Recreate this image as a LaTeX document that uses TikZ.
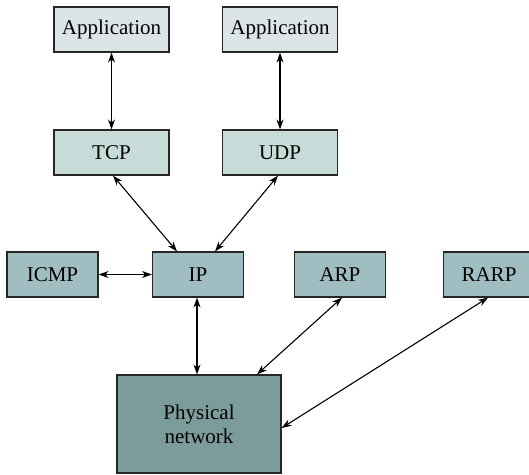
\documentclass[tikz,border=0pt]{standalone}
\usepackage{fontspec}
\setmainfont{Liberation Serif}
\usetikzlibrary{arrows.meta}
\definecolor{appfill}{HTML}{DDE4E8}
\definecolor{transfill}{HTML}{C7DCD9}
\definecolor{netfill}{HTML}{A0BDC1}
\definecolor{physfill}{HTML}{7C9C9C}
\begin{document}
\begin{tikzpicture}[x=1pt, y=-1pt, node distance=123pt,
    box/.style={rectangle, draw=black!85, line width=1.2pt, minimum height=45pt, inner sep=0pt,
      font=\fontsize{21}{24}\selectfont},
    upper/.style={box, minimum width=115pt},
    lower/.style={box, fill=netfill, minimum width=91pt},
    link/.style={{Stealth[length=10pt,width=7pt]}-{Stealth[length=10pt,width=7pt]}, line width=1.1pt}]
    \useasboundingbox (0,0) rectangle (529,474);

    \node[upper, fill=appfill] at (111.5,29.5) (appl) {Application};
    \node[upper, fill=appfill, right of=appl, node distance=168.5pt] (appr) {Application};
    \node[upper, fill=transfill, below of=appl] (tcp) {TCP};
    \node[upper, fill=transfill, below of=appr] (udp) {UDP};

    \node[lower] at (52.5,274.5) (icmp) {ICMP};
    \node[lower] at (198,274.5) (ip) {IP};
    \node[lower] at (340,274.5) (arp) {ARP};
    \node[lower] at (489,274.5) (rarp) {RARP};

    \node[box, fill=physfill, minimum width=164pt, minimum height=98pt, align=center] at (199,424) (phys) {Physical\\network};

    \draw[link] (appl) -- (tcp);
    \draw[link] (appr) -- (udp);
    \draw[link] ([xshift=1.5pt]tcp.south) -- ([xshift=-21pt]ip.north);
    \draw[link] ([xshift=-2pt]udp.south) -- ([xshift=17pt]ip.north);
    \draw[link] (icmp) -- (ip);
    \draw[link] ([xshift=-1pt]ip.south) -- ([xshift=-2pt]phys.north);
    \draw[link] ([xshift=2pt]arp.south) -- ([xshift=58pt]phys.north);
    \draw[link] ([xshift=-1pt]rarp.south) -- ([yshift=-4pt]phys.east);
\end{tikzpicture}
\end{document}
